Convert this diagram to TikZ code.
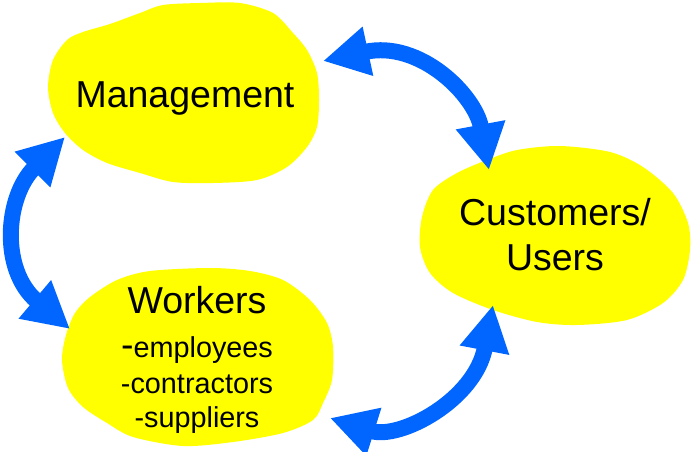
\documentclass[tikz,border=0pt]{standalone}
\usepackage{fontspec}
\setmainfont{Liberation Sans}
\usetikzlibrary{arrows.meta}
\definecolor{blobyellow}{RGB}{255,255,0}
\definecolor{flowblue}{RGB}{0,102,255}
\tikzset{
  blob/.style={fill=blobyellow,draw=none},
  bigtext/.style={font=\fontsize{37.5}{45}\selectfont,align=center},
  listtext/.style={font=\fontsize{28.8}{35}\selectfont,align=center},
  flow/.style={draw=flowblue,line width=16pt,>={Triangle[length=46pt,width=47pt]},<->}
}
\begin{document}
\begin{tikzpicture}[x=1pt,y=-1pt]
\useasboundingbox (0,0) rectangle (693,452);

% Yellow blobs
\fill[blob] plot[smooth cycle] coordinates {(163,5) (200,3) (240,3) (273,13) (293,33) (307,50) (317,73) (319,100) (317,127) (307,147) (287,167) (257,180) (213,183) (173,182) (140,173) (107,163) (83,150) (65,133) (53,113) (48,87) (53,60) (67,40) (83,32) (110,24) (140,13)};
\fill[blob] plot[smooth cycle] coordinates {(150,271) (210,268) (250,271) (283,280) (310,300) (327,323) (333,347) (332,380) (323,403) (313,420) (283,433) (233,442) (183,446) (133,437) (107,423) (83,407) (68,388) (62,360) (66,335) (75,313) (90,297) (117,280)};
\fill[blob] plot[smooth cycle] coordinates {(517,150) (560,146) (610,152) (643,167) (673,193) (688,223) (690,250) (683,280) (663,303) (627,320) (577,325) (537,322) (493,310) (453,293) (430,273) (420,247) (422,217) (433,190) (457,173) (487,160)};

% Labels
\node[bigtext,anchor=base] (mgmt) at (185,107) {Management};
\node[listtext] (workers) at (197,360) {{\fontsize{37.5}{45}\selectfont Workers}\\[9pt]{\fontsize{37.5}{45}\selectfont -}employees\\[1pt]-contractors\\[-1pt]-suppliers};
\node[bigtext] (cust) at (555,235) {Customers/\\Users};

% Arrow ends on the blob edges
\coordinate (mgmt-sw) at (65,137);
\coordinate (mgmt-e) at (323,61);
\coordinate (workers-nw) at (70,329);
\coordinate (workers-e) at (330,418);
\coordinate (cust-n) at (489,170);
\coordinate (cust-s) at (493,305);

% Arrows
\draw[flow] (mgmt-sw) .. controls (5,197) and (0,270) .. (workers-nw);
\draw[flow] (mgmt-e) .. controls (420,40) and (475,95) .. (cust-n);
\draw[flow] (workers-e) .. controls (400,440) and (475,400) .. (cust-s);
\end{tikzpicture}
\end{document}
